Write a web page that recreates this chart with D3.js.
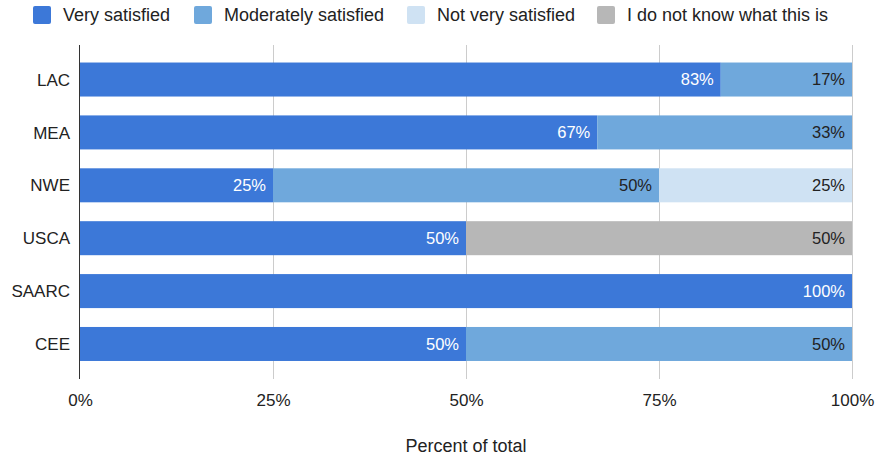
<!DOCTYPE html>
<html>
<head>
<meta charset="utf-8">
<script src="https://cdn.jsdelivr.net/npm/d3@7"></script>
<style>
  html, body { margin: 0; padding: 0; background: #fff; }
  svg { display: block; font-family: "Liberation Sans", Arial, sans-serif; }
</style>
</head>
<body>
<svg id="chart" width="875" height="456"></svg>
<script>
// Regions shown on the vertical axis, top to bottom
const regions = ["LAC", "MEA", "NWE", "USCA", "SAARC", "CEE"];

// Response categories, stacked left to right
const responses = ["Very satisfied", "Moderately satisfied", "Not very satisfied", "I do not know what this is"];
const responseColors = ["#3c78d8", "#6fa8dc", "#cfe2f3", "#b7b7b7"];
const labelColors = ["#ffffff", "#222222", "#222222", "#222222"];

// Percent of total per region, one array per response
const verySatisfied       = [83, 67, 25, 50, 100, 50];
const moderatelySatisfied = [17, 33, 50, 0, 0, 50];
const notVerySatisfied    = [0, 0, 25, 0, 0, 0];
const doNotKnow           = [0, 0, 0, 50, 0, 0];

// Axis ticks
const tickValues = [0, 25, 50, 75, 100];
const xAxisTitle = "Percent of total";

const series = [verySatisfied, moderatelySatisfied, notVerySatisfied, doNotKnow];
const rows = regions.map((r, i) => {
  const o = { region: r };
  responses.forEach((k, j) => { o[k] = series[j][i]; });
  return o;
});

const svg = d3.select("#chart");
const left = 80, right = 852, plotTop = 45, plotBottom = 379;

const x = d3.scaleLinear().domain([0, 100]).range([left, right]);
const y = d3.scaleBand().domain(regions).range([53, 370.5]).paddingInner(0.357).paddingOuter(0.18);

// Vertical gridlines
svg.append("g").selectAll("line")
  .data(tickValues.filter(t => t > 0))
  .join("line")
  .attr("x1", d => x(d) + 0.5).attr("x2", d => x(d) + 0.5)
  .attr("y1", plotTop).attr("y2", plotBottom)
  .attr("stroke", "#cccccc").attr("stroke-width", 1);

// Stacked bars
const stack = d3.stack().keys(responses)(rows);
const layers = svg.append("g").selectAll("g")
  .data(stack)
  .join("g")
  .attr("fill", (d, i) => responseColors[i]);

layers.selectAll("rect")
  .data(d => d.filter(s => s[1] - s[0] > 0).map(s => ({ s, key: d.key })))
  .join("rect")
  .attr("x", d => x(d.s[0]))
  .attr("y", d => y(d.s.data.region))
  .attr("width", d => x(d.s[1]) - x(d.s[0]))
  .attr("height", y.bandwidth());

// Value labels, right-aligned inside each segment
layers.selectAll("text")
  .data((d, i) => d.filter(s => s[1] - s[0] > 0).map(s => ({ s, idx: i })))
  .join("text")
  .attr("x", d => x(d.s[1]) - 7)
  .attr("y", d => y(d.s.data.region) + y.bandwidth() / 2)
  .attr("dy", "0.36em")
  .attr("text-anchor", "end")
  .attr("font-size", "16.5px")
  .attr("fill", d => labelColors[d.idx])
  .text(d => (d.s[1] - d.s[0]) + "%");

// Category axis line
svg.append("line")
  .attr("x1", left - 0.5).attr("x2", left - 0.5)
  .attr("y1", plotTop).attr("y2", plotBottom)
  .attr("stroke", "#333333").attr("stroke-width", 1);

// Category labels
svg.append("g").selectAll("text")
  .data(regions)
  .join("text")
  .attr("x", left - 10)
  .attr("y", d => y(d) + y.bandwidth() / 2)
  .attr("dy", "0.36em")
  .attr("text-anchor", "end")
  .attr("font-size", "17px")
  .attr("fill", "#222222")
  .text(d => d);

// Percent axis labels
const xAxis = d3.axisBottom(x).tickValues(tickValues).tickFormat(d => d + "%").tickSize(0).tickPadding(0);
const gx = svg.append("g").attr("transform", `translate(0, 400)`).call(xAxis);
gx.select(".domain").remove();
gx.selectAll("text")
  .attr("font-size", "17px")
  .attr("font-family", "'Liberation Sans', Arial, sans-serif")
  .attr("fill", "#222222")
  .attr("dy", "0.36em")
  .attr("y", 0);

// Axis title
svg.append("text")
  .attr("x", (left + right) / 2)
  .attr("y", 452)
  .attr("text-anchor", "middle")
  .attr("font-size", "18px")
  .attr("fill", "#222222")
  .text(xAxisTitle);

// Legend
const legendX = [33, 194, 407, 597];
const legend = svg.append("g").selectAll("g")
  .data(responses)
  .join("g")
  .attr("transform", (d, i) => `translate(${legendX[i]}, 6)`);
legend.append("rect")
  .attr("width", 18).attr("height", 18).attr("rx", 2)
  .attr("fill", (d, i) => responseColors[i]);
legend.append("text")
  .attr("x", 30).attr("y", 9).attr("dy", "0.36em")
  .attr("font-size", "18px")
  .attr("fill", "#222222")
  .text(d => d);
</script>
</body>
</html>
